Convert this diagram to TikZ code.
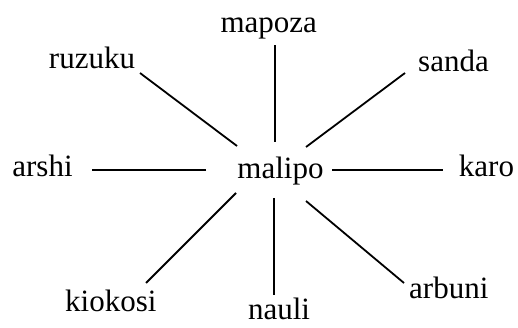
\documentclass[tikz,border=0pt]{standalone}
\usepackage{fontspec}
\setmainfont{Liberation Serif}
\begin{document}
\begin{tikzpicture}[x=1pt,y=-1pt,
  word/.style={anchor=base,inner sep=0pt,font=\fontsize{31}{33}\selectfont},
  spoke/.style={line width=1.8pt,black}]
\useasboundingbox (0,0) rectangle (518,328);
% labels
\node[word] (malipo)  at (280.5,179) {malipo};
\node[word] (mapoza)  at (268.7,32.3) {mapoza};
\node[word] (ruzuku)  at (92,68.3) {ruzuku};
\node[word] (sanda)   at (453.5,71.7) {sanda};
\node[word] (arshi)   at (42.5,176.5) {arshi};
\node[word] (karo)    at (486.5,176.5) {karo};
\node[word] (kiokosi) at (110.8,311.7) {kiokosi};
\node[word] (nauli)   at (279,319) {nauli};
\node[word] (arbuni)  at (448.8,298.3) {arbuni};
% spoke end points
\coordinate (cN)  at (275,142);  \coordinate (mapozaE)  at (275,45);
\coordinate (cNW) at (237,146);  \coordinate (ruzukuE)  at (140,73);
\coordinate (cNE) at (306,147);  \coordinate (sandaE)   at (405,73);
\coordinate (cW)  at (206,170);  \coordinate (arshiE)   at (92,170);
\coordinate (cE)  at (332,170);  \coordinate (karoE)    at (443,170);
\coordinate (cSW) at (236,193);  \coordinate (kiokosiE) at (146,283);
\coordinate (cS)  at (274,198);  \coordinate (nauliE)   at (274,295);
\coordinate (cSE) at (306,201);  \coordinate (arbuniE)  at (404,283);
% spokes
\draw[spoke] (cN) -- (mapozaE);
\draw[spoke] (cNW) -- (ruzukuE);
\draw[spoke] (cNE) -- (sandaE);
\draw[spoke] (cW) -- (arshiE);
\draw[spoke] (cE) -- (karoE);
\draw[spoke] (cSW) -- (kiokosiE);
\draw[spoke] (cS) -- (nauliE);
\draw[spoke] (cSE) -- (arbuniE);
\end{tikzpicture}
\end{document}
